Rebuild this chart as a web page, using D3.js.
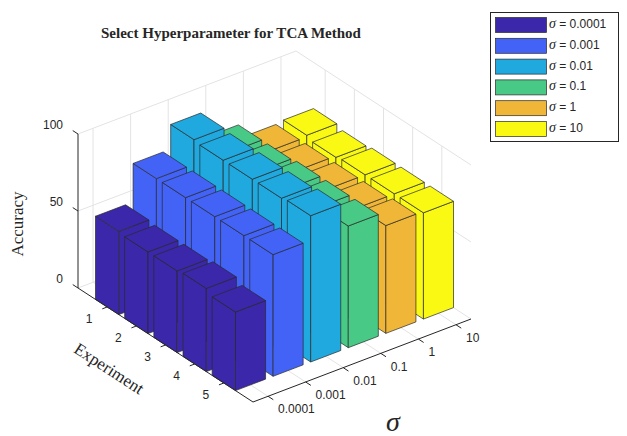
<!DOCTYPE html>
<html>
<head>
<meta charset="utf-8">
<script src="https://cdn.jsdelivr.net/npm/d3@7"></script>
<style>
  body { margin: 0; background: #fff; }
  svg text { fill: #262626; }
</style>
</head>
<body>
<div id="chart"></div>
<script>
// --- data ---
var sigmaLabels = ["0.0001", "0.001", "0.01", "0.1", "1", "10"];
var experiments = [1, 2, 3, 4, 5];
var zTicks = [0, 50, 100];
var acc_s0001 = [54, 53, 53, 54, 51];
var acc_s001  = [79, 79, 79, 79, 79];
var acc_s01   = [95, 94, 94, 94, 95];
var acc_s1    = [78, 78, 79, 79, 79];
var acc_s10   = [69, 69, 69, 69, 70];
var acc_s100  = [70, 68, 69, 69, 69];
var seriesColors = ["#3b27a9", "#4363f7", "#1fa9df", "#48ca86", "#efb637", "#f9f914"];

var series = [acc_s0001, acc_s001, acc_s01, acc_s1, acc_s10, acc_s100];

var W = 627, H = 436;
var svg = d3.select("#chart").append("svg")
            .attr("width", W)
            .attr("height", H)
            .style("font-family", "'Liberation Sans', Arial, sans-serif");

// --- 3d box: floor corners on screen ---
var L = [78, 288], F = [253, 402], R = [471, 319];
var xS = d3.scaleLinear().domain([0.6, 6.4]).range([0, 1]);   // sigma index
var yS = d3.scaleLinear().domain([0, 6]).range([0, 1]);       // experiment
var zS = d3.scaleLinear().domain([0, 100]).range([0, 154]);   // accuracy
var xMin = 0.6, xMax = 6.4, yMin = 0, yMax = 6, zMax = 100;

function proj(x, y, z) {
	var u = xS(x), v = yS(y);
	return [L[0] + u * (R[0] - F[0]) + v * (F[0] - L[0]),
	        L[1] + u * (R[1] - F[1]) + v * (F[1] - L[1]) - zS(z)];
}
function seg(g, a, b, color, w) {
	var p = proj.apply(null, a), q = proj.apply(null, b);
	g.append("line")
	 .attr("x1", p[0]).attr("y1", p[1])
	 .attr("x2", q[0]).attr("y2", q[1])
	 .attr("stroke", color)
	 .attr("stroke-width", w);
}

// --- grid on floor and back walls ---
var grid = svg.append("g");
var gc = "#e3e3e3";
sigmaLabels.forEach(function(d, i) {
	var x = i + 1;
	seg(grid, [x, yMin, 0], [x, yMax, 0], gc, 1);
	seg(grid, [x, yMin, 0], [x, yMin, zMax], gc, 1);
});
experiments.forEach(function(y) {
	seg(grid, [xMin, y, 0], [xMax, y, 0], gc, 1);
	seg(grid, [xMax, y, 0], [xMax, y, zMax], gc, 1);
});
zTicks.forEach(function(z) {
	seg(grid, [xMin, yMin, z], [xMax, yMin, z], gc, 1);
	seg(grid, [xMax, yMin, z], [xMax, yMax, z], gc, 1);
});

// --- bars ---
var bars = [];
series.forEach(function(vals, i) {
	vals.forEach(function(v, j) {
		bars.push({x: i + 1, y: experiments[j], z: v, color: seriesColors[i]});
	});
});
bars.sort(function(a, b) { return (a.y - a.x) - (b.y - b.x); });

var hw = 0.4;
var line = d3.line();
var barG = svg.append("g");
bars.forEach(function(b) {
	var x0 = b.x - hw, x1 = b.x + hw, y0 = b.y - hw, y1 = b.y + hw;
	var faces = [
		[[x0, y0, 0], [x0, y1, 0], [x0, y1, b.z], [x0, y0, b.z]],   // left
		[[x0, y1, 0], [x1, y1, 0], [x1, y1, b.z], [x0, y1, b.z]],   // front
		[[x0, y0, b.z], [x1, y0, b.z], [x1, y1, b.z], [x0, y1, b.z]] // top
	];
	faces.forEach(function(f) {
		barG.append("path")
			.attr("d", line(f.map(function(p) { return proj(p[0], p[1], p[2]); })) + "Z")
			.attr("fill", b.color)
			.attr("stroke", "#2a2a2a")
			.attr("stroke-width", 0.7)
			.attr("stroke-linejoin", "round");
	});
});

// --- axes ---
var ax = svg.append("g");
var ac = "#262626";
seg(ax, [xMin, yMin, 0], [xMin, yMin, zMax], ac, 1);
seg(ax, [xMin, yMin, 0], [xMin, yMax, 0], ac, 1);
seg(ax, [xMin, yMax, 0], [xMax, yMax, 0], ac, 1);

// ticks + labels
zTicks.forEach(function(z) {
	seg(ax, [xMin, yMin, z], [xMin, yMin - 0.18, z], ac, 1);
	var p = proj(xMin, yMin, z);
	ax.append("text")
	  .attr("x", p[0] - 15).attr("y", p[1] - 8)
	  .attr("text-anchor", "end")
	  .attr("dominant-baseline", "middle")
	  .attr("font-size", 12)
	  .text(z);
});
experiments.forEach(function(y) {
	seg(ax, [xMin, y, 0], [xMin - 0.13, y, 0], ac, 1);
	var p = proj(xMin, y, 0);
	ax.append("text")
	  .attr("x", p[0] - 18).attr("y", p[1] + 13)
	  .attr("text-anchor", "middle")
	  .attr("dominant-baseline", "middle")
	  .attr("font-size", 12)
	  .text(y);
});
sigmaLabels.forEach(function(d, i) {
	seg(ax, [i + 1, yMax, 0], [i + 1, yMax + 0.18, 0], ac, 1);
	var p = proj(i + 1, yMax, 0);
	ax.append("text")
	  .attr("x", p[0] + 10).attr("y", p[1] + 14)
	  .attr("text-anchor", "start")
	  .attr("dominant-baseline", "middle")
	  .attr("font-size", 12)
	  .text(d);
});

// axis titles
var serif = "'Liberation Serif', 'Times New Roman', serif";
svg.append("text")
   .attr("transform", "translate(19,224) rotate(-90)")
   .attr("text-anchor", "middle")
   .attr("dominant-baseline", "middle")
   .style("font-family", serif)
   .attr("font-size", 17)
   .text("Accuracy");
var ang = Math.atan2(F[1] - L[1], F[0] - L[0]) * 180 / Math.PI;
svg.append("text")
   .attr("transform", "translate(108,370) rotate(" + ang + ")")
   .attr("text-anchor", "middle")
   .attr("dominant-baseline", "middle")
   .style("font-family", serif)
   .attr("font-size", 17)
   .text("Experiment");
svg.append("text")
   .attr("x", 393).attr("y", 431)
   .attr("text-anchor", "middle")
   .style("font-family", serif)
   .style("font-style", "italic")
   .attr("font-size", 28)
   .text("σ");
svg.append("text")
   .attr("x", 231).attr("y", 38)
   .attr("text-anchor", "middle")
   .style("font-family", serif)
   .style("font-weight", "bold")
   .attr("font-size", 15)
   .text("Select Hyperparameter for TCA Method");

// --- legend ---
var leg = svg.append("g");
leg.append("rect")
   .attr("x", 490.5).attr("y", 12.5)
   .attr("width", 128).attr("height", 129)
   .attr("fill", "#fff")
   .attr("stroke", "#262626")
   .attr("stroke-width", 1);
sigmaLabels.forEach(function(d, i) {
	var y = 17.5 + i * 20.8;
	leg.append("rect")
	   .attr("x", 495.5).attr("y", y)
	   .attr("width", 51).attr("height", 15)
	   .attr("fill", seriesColors[i])
	   .attr("stroke", "#2a2a2a")
	   .attr("stroke-width", 0.7);
	var t = leg.append("text")
	   .attr("x", 549).attr("y", y + 7.5)
	   .attr("dominant-baseline", "middle")
	   .attr("font-size", 12);
	t.append("tspan")
	 .style("font-family", serif)
	 .style("font-style", "italic")
	 .attr("font-size", 14)
	 .text("σ");
	t.append("tspan").text(" = " + d);
});
</script>
</body>
</html>
